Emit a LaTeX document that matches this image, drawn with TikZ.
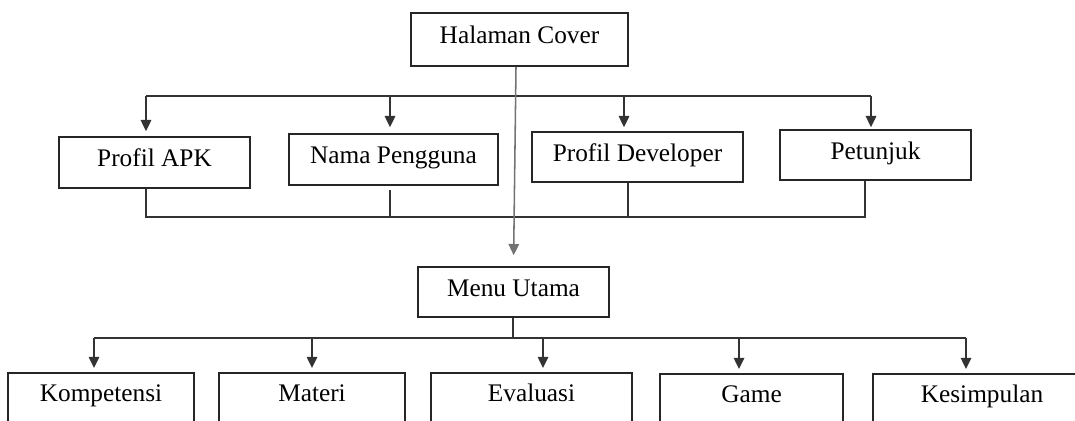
\documentclass[tikz,border=0pt]{standalone}
\usepackage{fontspec}
\setmainfont{Liberation Serif}
\usetikzlibrary{arrows.meta}

\newcommand{\pxw}{0.025cm}

\begin{document}
\begin{tikzpicture}[
  x=0.025cm, y=-0.025cm,
  boxnode/.style={draw=black!85, line width=1.1pt, minimum width=191*\pxw,
                  minimum height=51*\pxw, text height=12pt, text depth=6pt,
                  inner sep=0pt, font=\fontsize{18}{20}\selectfont},
  lowbox/.style={draw=black!85, line width=1.1pt, anchor=north, minimum width=186*\pxw,
                 text height=20.6pt, text depth=40pt, inner sep=0pt,
                 font=\fontsize{18}{20}\selectfont},
  edge/.style={draw=black!80, line width=1.1pt},
  arr/.style={edge, -{Triangle[length=8pt,width=7.5pt]}},
]
\useasboundingbox (0,0) rectangle (1075,420);
\clip (0,0) rectangle (1075,420);

% ── Top: cover page ───────────────────────────────────────────────────
\node[boxnode, minimum width=217*\pxw, minimum height=53*\pxw] (cover) at (519.5,39.5) {Halaman Cover};

% ── Second row ────────────────────────────────────────────────────────
\node[boxnode]                      (apk)  at (154.5,162.5) {Profil APK};
\node[boxnode, minimum width=209*\pxw] (nama) at (393.5,159.5) {Nama Pengguna};
\node[boxnode, minimum width=211*\pxw, minimum height=50*\pxw] (dev) at (637.5,157) {Profil Developer};
\node[boxnode, minimum height=50*\pxw] (petunjuk) at (875.5,155) {Petunjuk};

% bus above the second row
\coordinate (t1) at (146,96);
\coordinate (t2) at (390,96);
\coordinate (t3) at (624,96);
\coordinate (t4) at (871,96);
\draw[edge] (t1) -- (t4);
\draw[arr, shorten >=5*\pxw] (t1) -- (t1 |- apk.north);
\draw[arr, shorten >=6*\pxw] (t2) -- (t2 |- nama.north);
\draw[arr, shorten >=4*\pxw] (t3) -- (t3 |- dev.north);
\draw[arr, shorten >=2*\pxw] (t4) -- (t4 |- petunjuk.north);

% collector under the second row
\coordinate (c1) at (146,217);
\coordinate (c2) at (390,217);
\coordinate (c3) at (628,217);
\coordinate (c4) at (865,217);
\draw[edge] (c1 |- apk.south) -- (c1) -- (c4) -- (c4 |- petunjuk.south);
\draw[edge] (c2) -- ([yshift=-3pt]c2 |- nama.south);
\draw[edge] (c3) -- (c3 |- dev.south);

% ── Main menu ─────────────────────────────────────────────────────────
\node[boxnode, minimum height=50*\pxw] (menu) at (513.5,292) {Menu Utama};
\draw[arr, draw=black!55, shorten >=11*\pxw] ([xshift=-3.5*\pxw]cover.south) -- (menu.north);

% ── Bottom row ────────────────────────────────────────────────────────
\node[lowbox]                       (kompetensi) at (101,372)   {Kompetensi};
\node[lowbox]                       (materi)     at (312,372)   {Materi};
\node[lowbox, minimum width=201*\pxw] (evaluasi) at (531.5,372) {Evaluasi};
\node[lowbox, minimum width=183*\pxw] (game)     at (751.5,373) {Game};
\node[lowbox, minimum width=218*\pxw] (kesimpulan) at (982,373) {Kesimpulan};

\coordinate (m0) at (513,338);
\coordinate (b1) at (94,338);
\coordinate (b2) at (312,338);
\coordinate (b3) at (543,338);
\coordinate (b4) at (739,338);
\coordinate (b5) at (966,338);
\draw[edge] (menu.south -| m0) -- (m0);
\draw[edge] (b1) -- (b5);
\draw[arr, shorten >=4*\pxw] (b1) -- (b1 |- kompetensi.north);
\draw[arr, shorten >=4*\pxw] (b2) -- (b2 |- materi.north);
\draw[arr, shorten >=4*\pxw] (b3) -- (b3 |- evaluasi.north);
\draw[arr, shorten >=4*\pxw] (b4) -- (b4 |- game.north);
\draw[arr, shorten >=4*\pxw] (b5) -- (b5 |- kesimpulan.north);

\end{tikzpicture}
\end{document}
